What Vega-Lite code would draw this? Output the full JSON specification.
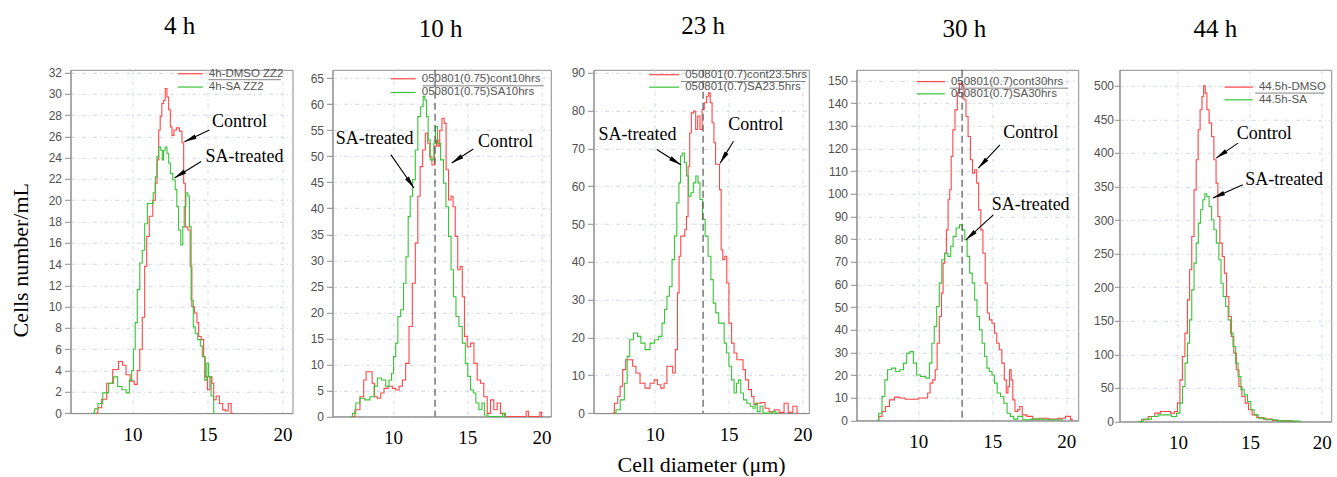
{
"$schema": "https://vega.github.io/schema/vega-lite/v6.json",
"background": "white",
"padding": {"left": 8.5, "top": 12.8, "right": 0, "bottom": 0},
"spacing": 10,
"config": {
 "view": {"stroke": "#8c8c8c", "strokeWidth": 1},
 "axis": {"gridColor": "#d3d9e4", "gridDash": [4, 3, 1, 3], "domainColor": "#8c8c8c", "tickColor": "#8c8c8c", "titleFont": "Liberation Serif", "titleFontWeight": "normal", "titleColor": "#000000", "titleFontSize": 22, "labelOverlap": false},
 "axisX": {"labelFont": "Liberation Serif", "labelFontSize": 19, "labelColor": "#000000", "tickSize": 0, "labelPadding": 12, "labelFlush": false},
 "axisY": {"labelFont": "Liberation Sans", "labelFontSize": 12, "labelColor": "#505050", "tickSize": 6, "labelPadding": 3},
 "line": {"interpolate": "step", "strokeWidth": 1.1, "clip": true},
 "title": {"font": "Liberation Serif", "fontSize": 25, "fontWeight": "normal", "color": "#000000", "frame": "group", "offset": 27.6}
},
"datasets": {
 "c1c": [{"x":7.58,"y":0},{"x":7.8,"y":0.5},{"x":8.1,"y":1.3},{"x":8.47,"y":2.8},{"x":8.9,"y":4.1},{"x":9.24,"y":4.85},{"x":9.45,"y":4.5},{"x":9.69,"y":3.6},{"x":10.0,"y":3.0},{"x":10.24,"y":2.7},{"x":10.4,"y":4.0},{"x":10.58,"y":6.0},{"x":10.73,"y":9.0},{"x":10.9,"y":13.8},{"x":11.0,"y":16.6},{"x":11.24,"y":18.5},{"x":11.47,"y":20.0},{"x":11.58,"y":21.6},{"x":11.7,"y":23.8},{"x":11.8,"y":26.6},{"x":11.9,"y":27.9},{"x":12.02,"y":29.1},{"x":12.13,"y":29.4},{"x":12.24,"y":30.5},{"x":12.36,"y":29.7},{"x":12.47,"y":28.5},{"x":12.58,"y":26.9},{"x":12.69,"y":26.1},{"x":12.84,"y":26.6},{"x":13.02,"y":26.8},{"x":13.24,"y":26.5},{"x":13.36,"y":25.4},{"x":13.47,"y":21.6},{"x":13.58,"y":17.5},{"x":13.8,"y":17.2},{"x":13.9,"y":13.8},{"x":14.02,"y":10.0},{"x":14.24,"y":9.4},{"x":14.36,"y":8.5},{"x":14.47,"y":7.2},{"x":14.69,"y":6.9},{"x":14.8,"y":5.3},{"x":14.9,"y":3.4},{"x":15.09,"y":2.2},{"x":15.24,"y":3.4},{"x":15.36,"y":2.8},{"x":15.47,"y":1.25},{"x":15.69,"y":1.6},{"x":15.9,"y":0.9},{"x":16.13,"y":0.3},{"x":16.3,"y":0.2},{"x":16.47,"y":0.9},{"x":16.69,"y":0}],
 "c1s": [{"x":7.36,"y":0},{"x":7.6,"y":0.4},{"x":7.8,"y":0.9},{"x":8.24,"y":1.9},{"x":8.58,"y":2.8},{"x":8.9,"y":3.4},{"x":9.13,"y":2.5},{"x":9.47,"y":2.2},{"x":9.69,"y":1.9},{"x":9.9,"y":3.1},{"x":10.0,"y":4.0},{"x":10.13,"y":6.0},{"x":10.24,"y":8.5},{"x":10.4,"y":11.6},{"x":10.58,"y":14.1},{"x":10.73,"y":15.3},{"x":10.9,"y":17.8},{"x":11.09,"y":19.7},{"x":11.3,"y":19.7},{"x":11.47,"y":20.7},{"x":11.58,"y":22.2},{"x":11.69,"y":24.1},{"x":11.8,"y":25.0},{"x":11.96,"y":24.7},{"x":12.02,"y":23.8},{"x":12.13,"y":24.7},{"x":12.24,"y":25.0},{"x":12.36,"y":24.4},{"x":12.47,"y":23.5},{"x":12.58,"y":22.5},{"x":12.8,"y":21.9},{"x":12.9,"y":21.0},{"x":13.02,"y":19.4},{"x":13.13,"y":17.2},{"x":13.31,"y":15.8},{"x":13.4,"y":17.5},{"x":13.5,"y":19.4},{"x":13.62,"y":20.7},{"x":13.76,"y":20.4},{"x":13.84,"y":17.5},{"x":13.98,"y":10.6},{"x":14.13,"y":8.1},{"x":14.24,"y":7.5},{"x":14.47,"y":6.9},{"x":14.58,"y":6.3},{"x":14.73,"y":5.3},{"x":14.9,"y":3.1},{"x":15.02,"y":4.7},{"x":15.13,"y":3.4},{"x":15.36,"y":1.6},{"x":15.47,"y":0}],
 "c2c": [{"x":7.26,"y":0},{"x":7.6,"y":1.3},{"x":7.94,"y":3.8},{"x":8.1,"y":7.0},{"x":8.27,"y":8.6},{"x":8.5,"y":8.6},{"x":8.68,"y":6.4},{"x":8.83,"y":3.8},{"x":9.06,"y":3.5},{"x":9.28,"y":4.5},{"x":9.5,"y":5.4},{"x":9.84,"y":5.8},{"x":10.07,"y":5.4},{"x":10.29,"y":5.1},{"x":10.52,"y":5.8},{"x":10.74,"y":7.0},{"x":10.96,"y":10.2},{"x":11.19,"y":17.3},{"x":11.41,"y":25.6},{"x":11.59,"y":33.3},{"x":11.75,"y":42.3},{"x":11.9,"y":48.0},{"x":12.09,"y":51.2},{"x":12.26,"y":54.4},{"x":12.42,"y":52.5},{"x":12.53,"y":49.9},{"x":12.71,"y":48.3},{"x":12.87,"y":51.9},{"x":12.98,"y":53.1},{"x":13.09,"y":51.9},{"x":13.2,"y":55.0},{"x":13.39,"y":57.3},{"x":13.5,"y":56.3},{"x":13.65,"y":47.4},{"x":13.83,"y":41.6},{"x":13.99,"y":42.3},{"x":14.1,"y":40.3},{"x":14.28,"y":34.6},{"x":14.44,"y":28.2},{"x":14.6,"y":28.8},{"x":14.73,"y":23.0},{"x":14.89,"y":15.4},{"x":15.11,"y":13.4},{"x":15.34,"y":14.1},{"x":15.56,"y":10.2},{"x":15.78,"y":7.0},{"x":16.0,"y":6.4},{"x":16.23,"y":3.8},{"x":16.46,"y":0.6},{"x":16.68,"y":3.2},{"x":16.9,"y":1.3},{"x":17.13,"y":2.6},{"x":17.35,"y":0.6},{"x":17.69,"y":0},{"x":18.9,"y":0},{"x":19.04,"y":1.0},{"x":19.2,"y":0},{"x":19.85,"y":0},{"x":19.93,"y":0.8},{"x":20.1,"y":0}],
 "c2s": [{"x":7.15,"y":0},{"x":7.38,"y":0.6},{"x":7.6,"y":2.6},{"x":7.94,"y":3.5},{"x":8.27,"y":3.2},{"x":8.61,"y":3.8},{"x":8.83,"y":5.8},{"x":9.06,"y":7.4},{"x":9.39,"y":7.0},{"x":9.62,"y":5.8},{"x":9.84,"y":7.0},{"x":9.96,"y":8.3},{"x":10.11,"y":11.5},{"x":10.25,"y":14.1},{"x":10.4,"y":19.2},{"x":10.63,"y":20.5},{"x":10.78,"y":25.6},{"x":10.96,"y":30.7},{"x":11.08,"y":38.4},{"x":11.23,"y":42.3},{"x":11.41,"y":45.5},{"x":11.59,"y":51.2},{"x":11.75,"y":57.6},{"x":11.97,"y":59.5},{"x":12.09,"y":61.5},{"x":12.2,"y":60.8},{"x":12.31,"y":57.6},{"x":12.42,"y":53.1},{"x":12.58,"y":49.3},{"x":12.71,"y":49.3},{"x":12.8,"y":52.5},{"x":12.91,"y":55.7},{"x":13.09,"y":52.5},{"x":13.32,"y":49.3},{"x":13.48,"y":44.8},{"x":13.65,"y":40.3},{"x":13.83,"y":34.6},{"x":13.99,"y":28.2},{"x":14.15,"y":23.0},{"x":14.33,"y":19.2},{"x":14.55,"y":17.3},{"x":14.78,"y":14.1},{"x":14.96,"y":10.2},{"x":15.11,"y":7.7},{"x":15.34,"y":5.1},{"x":15.49,"y":4.5},{"x":15.67,"y":2.6},{"x":15.9,"y":1.3},{"x":16.08,"y":2.6},{"x":16.23,"y":0.3},{"x":16.57,"y":0},{"x":17.3,"y":0},{"x":17.47,"y":0.6},{"x":17.69,"y":0}],
 "c3c": [{"x":7.15,"y":0},{"x":7.38,"y":2.6},{"x":7.6,"y":4.4},{"x":7.71,"y":7.1},{"x":7.94,"y":11.5},{"x":8.12,"y":14.1},{"x":8.39,"y":14.1},{"x":8.61,"y":12.4},{"x":8.83,"y":10.6},{"x":9.17,"y":7.9},{"x":9.51,"y":6.6},{"x":9.84,"y":7.9},{"x":10.07,"y":8.8},{"x":10.29,"y":7.5},{"x":10.52,"y":6.6},{"x":10.74,"y":7.9},{"x":10.9,"y":12.4},{"x":11.12,"y":12.4},{"x":11.3,"y":10.6},{"x":11.48,"y":16.8},{"x":11.59,"y":31.8},{"x":11.7,"y":41.5},{"x":11.82,"y":46.8},{"x":11.97,"y":46.8},{"x":12.09,"y":48.5},{"x":12.2,"y":52.0},{"x":12.31,"y":65.3},{"x":12.42,"y":74.1},{"x":12.53,"y":79.4},{"x":12.71,"y":79.9},{"x":12.83,"y":75.0},{"x":12.98,"y":78.6},{"x":13.14,"y":75.0},{"x":13.27,"y":80.3},{"x":13.43,"y":82.1},{"x":13.59,"y":83.8},{"x":13.7,"y":84.7},{"x":13.81,"y":82.1},{"x":13.95,"y":76.8},{"x":14.06,"y":71.5},{"x":14.17,"y":65.8},{"x":14.33,"y":65.8},{"x":14.44,"y":59.1},{"x":14.55,"y":43.2},{"x":14.66,"y":40.6},{"x":14.82,"y":41.5},{"x":14.93,"y":34.4},{"x":15.11,"y":23.8},{"x":15.29,"y":18.5},{"x":15.45,"y":15.9},{"x":15.67,"y":14.1},{"x":15.9,"y":14.1},{"x":16.05,"y":11.5},{"x":16.23,"y":8.8},{"x":16.46,"y":6.2},{"x":16.64,"y":4.4},{"x":16.79,"y":2.2},{"x":17.02,"y":2.6},{"x":17.35,"y":2.8},{"x":17.58,"y":1.3},{"x":17.91,"y":0.4},{"x":18.25,"y":0.9},{"x":18.59,"y":0.2},{"x":18.92,"y":2.6},{"x":19.15,"y":0.2},{"x":19.55,"y":1.8},{"x":19.71,"y":0}],
 "c3s": [{"x":7.26,"y":0},{"x":7.49,"y":0.9},{"x":7.83,"y":3.5},{"x":8.05,"y":7.9},{"x":8.21,"y":15.0},{"x":8.39,"y":19.4},{"x":8.72,"y":21.2},{"x":8.95,"y":20.3},{"x":9.17,"y":18.5},{"x":9.51,"y":16.8},{"x":9.84,"y":18.5},{"x":10.13,"y":19.4},{"x":10.4,"y":20.3},{"x":10.58,"y":23.8},{"x":10.74,"y":27.4},{"x":10.9,"y":30.9},{"x":11.08,"y":33.5},{"x":11.26,"y":40.6},{"x":11.41,"y":46.8},{"x":11.57,"y":55.6},{"x":11.7,"y":60.9},{"x":11.79,"y":68.0},{"x":11.93,"y":68.8},{"x":12.09,"y":66.2},{"x":12.2,"y":62.7},{"x":12.38,"y":57.4},{"x":12.53,"y":58.3},{"x":12.69,"y":60.9},{"x":12.87,"y":62.7},{"x":12.98,"y":60.9},{"x":13.14,"y":56.5},{"x":13.32,"y":51.2},{"x":13.5,"y":46.8},{"x":13.72,"y":41.5},{"x":13.88,"y":35.3},{"x":14.04,"y":29.1},{"x":14.22,"y":26.5},{"x":14.44,"y":23.8},{"x":14.62,"y":23.8},{"x":14.78,"y":18.5},{"x":14.93,"y":15.9},{"x":15.11,"y":12.4},{"x":15.29,"y":8.8},{"x":15.45,"y":5.3},{"x":15.61,"y":7.9},{"x":15.74,"y":8.8},{"x":15.9,"y":5.3},{"x":16.12,"y":3.5},{"x":16.35,"y":2.6},{"x":16.57,"y":1.8},{"x":16.73,"y":1.3},{"x":16.86,"y":2.6},{"x":17.02,"y":0.4},{"x":17.24,"y":1.8},{"x":17.4,"y":0},{"x":17.9,"y":0},{"x":18.03,"y":0.4},{"x":18.36,"y":0}],
 "c4c": [{"x":7.22,"y":0},{"x":7.44,"y":1.8},{"x":7.67,"y":4.0},{"x":7.89,"y":6.2},{"x":8.22,"y":9.1},{"x":8.56,"y":10.3},{"x":8.89,"y":9.9},{"x":9.33,"y":9.4},{"x":9.78,"y":9.4},{"x":10.22,"y":9.9},{"x":10.56,"y":9.9},{"x":10.71,"y":12.1},{"x":10.89,"y":16.5},{"x":11.07,"y":17.9},{"x":11.22,"y":22.4},{"x":11.33,"y":34.1},{"x":11.51,"y":45.9},{"x":11.62,"y":56.2},{"x":11.73,"y":69.4},{"x":11.84,"y":73.8},{"x":11.96,"y":84.1},{"x":12.07,"y":97.4},{"x":12.18,"y":101.8},{"x":12.27,"y":116.5},{"x":12.4,"y":128.2},{"x":12.56,"y":137.0},{"x":12.71,"y":144.4},{"x":12.84,"y":148.8},{"x":13.0,"y":148.1},{"x":13.16,"y":141.5},{"x":13.29,"y":134.1},{"x":13.44,"y":125.3},{"x":13.6,"y":115.0},{"x":13.73,"y":109.1},{"x":13.89,"y":110.6},{"x":14.0,"y":104.7},{"x":14.16,"y":92.9},{"x":14.29,"y":84.1},{"x":14.44,"y":73.8},{"x":14.6,"y":60.6},{"x":14.73,"y":47.4},{"x":14.89,"y":44.4},{"x":15.07,"y":42.9},{"x":15.22,"y":38.5},{"x":15.38,"y":34.1},{"x":15.56,"y":31.2},{"x":15.73,"y":25.3},{"x":15.89,"y":17.9},{"x":16.0,"y":12.1},{"x":16.11,"y":15.0},{"x":16.22,"y":22.4},{"x":16.33,"y":17.9},{"x":16.44,"y":9.1},{"x":16.62,"y":4.0},{"x":16.78,"y":4.7},{"x":16.93,"y":6.2},{"x":17.11,"y":2.5},{"x":17.56,"y":1.8},{"x":17.89,"y":0.6},{"x":18.44,"y":1.0},{"x":19.11,"y":0.6},{"x":19.78,"y":1.0},{"x":20.11,"y":1.8},{"x":20.44,"y":0.5}],
 "c4s": [{"x":7.22,"y":0},{"x":7.44,"y":3.2},{"x":7.67,"y":10.6},{"x":7.82,"y":17.9},{"x":8.04,"y":22.4},{"x":8.33,"y":23.1},{"x":8.62,"y":21.6},{"x":8.89,"y":22.4},{"x":9.11,"y":25.3},{"x":9.33,"y":29.7},{"x":9.56,"y":30.4},{"x":9.78,"y":25.3},{"x":10.0,"y":20.1},{"x":10.33,"y":19.4},{"x":10.67,"y":18.7},{"x":10.84,"y":25.3},{"x":11.0,"y":34.1},{"x":11.16,"y":41.5},{"x":11.33,"y":50.3},{"x":11.51,"y":60.6},{"x":11.67,"y":70.9},{"x":11.89,"y":73.8},{"x":12.11,"y":72.4},{"x":12.27,"y":76.8},{"x":12.44,"y":81.2},{"x":12.67,"y":84.9},{"x":12.89,"y":86.3},{"x":13.07,"y":84.1},{"x":13.22,"y":79.7},{"x":13.38,"y":72.4},{"x":13.56,"y":65.0},{"x":13.73,"y":60.6},{"x":13.89,"y":53.2},{"x":14.04,"y":45.9},{"x":14.22,"y":40.0},{"x":14.4,"y":34.1},{"x":14.56,"y":28.2},{"x":14.71,"y":23.1},{"x":14.89,"y":21.6},{"x":15.07,"y":20.1},{"x":15.22,"y":16.5},{"x":15.44,"y":12.1},{"x":15.67,"y":10.6},{"x":15.89,"y":7.6},{"x":16.11,"y":3.2},{"x":16.33,"y":1.8},{"x":16.56,"y":0.6},{"x":16.89,"y":1.8},{"x":17.22,"y":0.3},{"x":18.0,"y":0.6},{"x":18.89,"y":0.3},{"x":19.78,"y":0.3}],
 "c5c": [{"x":7.24,"y":0},{"x":7.7,"y":2.5},{"x":8.16,"y":7.4},{"x":8.62,"y":12.4},{"x":8.96,"y":14.9},{"x":9.31,"y":14.9},{"x":9.65,"y":12.4},{"x":9.88,"y":14.9},{"x":10.05,"y":27.3},{"x":10.23,"y":62.0},{"x":10.39,"y":96.8},{"x":10.58,"y":131.6},{"x":10.74,"y":181.2},{"x":10.88,"y":226.0},{"x":11.04,"y":275.6},{"x":11.2,"y":345.0},{"x":11.34,"y":389.8},{"x":11.47,"y":434.5},{"x":11.61,"y":464.3},{"x":11.73,"y":484.1},{"x":11.84,"y":500.0},{"x":11.96,"y":489.0},{"x":12.07,"y":464.3},{"x":12.26,"y":444.4},{"x":12.42,"y":424.5},{"x":12.58,"y":389.8},{"x":12.72,"y":355.0},{"x":12.83,"y":305.4},{"x":13.0,"y":265.6},{"x":13.16,"y":245.8},{"x":13.29,"y":221.0},{"x":13.46,"y":186.2},{"x":13.62,"y":156.4},{"x":13.8,"y":126.6},{"x":13.96,"y":101.8},{"x":14.15,"y":77.0},{"x":14.33,"y":52.1},{"x":14.56,"y":37.2},{"x":14.79,"y":27.3},{"x":15.02,"y":17.4},{"x":15.3,"y":9.9},{"x":15.65,"y":6.0},{"x":16.22,"y":3.5},{"x":16.91,"y":1.5},{"x":17.6,"y":1.0},{"x":18.3,"y":0}],
 "c5s": [{"x":7.24,"y":0},{"x":7.93,"y":3.5},{"x":8.39,"y":7.4},{"x":8.85,"y":9.9},{"x":9.31,"y":9.9},{"x":9.77,"y":7.4},{"x":10.05,"y":12.4},{"x":10.23,"y":27.3},{"x":10.41,"y":52.1},{"x":10.58,"y":86.9},{"x":10.74,"y":116.7},{"x":10.88,"y":151.4},{"x":11.04,"y":196.1},{"x":11.2,"y":235.8},{"x":11.34,"y":265.6},{"x":11.5,"y":295.4},{"x":11.66,"y":315.3},{"x":11.8,"y":330.2},{"x":11.94,"y":339.1},{"x":12.07,"y":335.2},{"x":12.26,"y":320.3},{"x":12.42,"y":300.4},{"x":12.58,"y":285.5},{"x":12.76,"y":265.6},{"x":12.93,"y":240.8},{"x":13.06,"y":206.0},{"x":13.23,"y":186.2},{"x":13.41,"y":171.3},{"x":13.57,"y":151.4},{"x":13.73,"y":131.6},{"x":13.92,"y":111.7},{"x":14.1,"y":86.9},{"x":14.26,"y":67.0},{"x":14.49,"y":47.2},{"x":14.72,"y":39.7},{"x":14.95,"y":29.8},{"x":15.18,"y":17.4},{"x":15.41,"y":9.9},{"x":15.76,"y":5.0},{"x":16.45,"y":2.5},{"x":17.37,"y":1.0},{"x":18.53,"y":0.5}],
 "leg": [
  {"p":1,"s":"C","x":13.02,"x2":14.69,"y":31.89,"t":"4h-DMSO ZZ2"},
  {"p":1,"s":"S","x":13.02,"x2":14.69,"y":30.64,"t":"4h-SA ZZ2"},
  {"p":2,"s":"C","x":9.85,"x2":11.53,"y":64.87,"t":"050801(0.75)cont10hrs"},
  {"p":2,"s":"S","x":9.85,"x2":11.53,"y":62.24,"t":"050801(0.75)SA10hrs"},
  {"p":3,"s":"C","x":9.62,"x2":11.65,"y":89.5,"t":"050801(0.7)cont23.5hrs"},
  {"p":3,"s":"S","x":9.62,"x2":11.65,"y":86.2,"t":"050801(0.7)SA23.5hrs"},
  {"p":4,"s":"C","x":9.89,"x2":11.8,"y":149.5,"t":"050801(0.7)cont30hrs"},
  {"p":4,"s":"S","x":9.89,"x2":11.8,"y":144.1,"t":"050801(0.7)SA30hrs"},
  {"p":5,"s":"C","x":13.24,"x2":15.21,"y":498,"t":"44.5h-DMSO"},
  {"p":5,"s":"S","x":13.24,"x2":15.21,"y":479.1,"t":"44.5h-SA"}
 ],
 "und": [
  {"p":1,"x":15.07,"x2":19.91,"y":31.33},
  {"p":2,"x":11.98,"x2":20.15,"y":63.52},
  {"p":3,"x":11.76,"x2":20.22,"y":87.7},
  {"p":4,"x":12.13,"x2":20.13,"y":146.6},
  {"p":5,"x":15.37,"x2":20.18,"y":489.1}
 ],
 "ann": [
  {"p":1,"t":"Control","x":17.13,"y":27.4},
  {"p":1,"t":"SA-treated","x":17.47,"y":24.1},
  {"p":2,"t":"SA-treated","x":8.76,"y":53.3},
  {"p":2,"t":"Control","x":17.58,"y":52.7},
  {"p":3,"t":"SA-treated","x":8.83,"y":73.5},
  {"p":3,"t":"Control","x":16.84,"y":76.1},
  {"p":4,"t":"Control","x":17.59,"y":126.7},
  {"p":4,"t":"SA-treated","x":17.59,"y":94.9},
  {"p":5,"t":"Control","x":16.0,"y":428.5},
  {"p":5,"t":"SA-treated","x":17.38,"y":360}
 ],
 "arr": [
  {"p":1,"a":"C","x":15.13,"y":26.6,"x2":13.47,"y2":25.5},
  {"p":1,"a":"S","x":14.58,"y":23.65,"x2":12.8,"y2":22.1},
  {"p":2,"a":"S","x":9.85,"y":50.3,"x2":11.41,"y2":43.9},
  {"p":2,"a":"C","x":15.41,"y":51.4,"x2":13.95,"y2":48.7},
  {"p":3,"a":"S","x":10.14,"y":69.7,"x2":11.76,"y2":65.7},
  {"p":3,"a":"C","x":15.33,"y":71.9,"x2":14.42,"y2":66.1},
  {"p":4,"a":"C","x":15.51,"y":121.6,"x2":14.05,"y2":111.3},
  {"p":4,"a":"S","x":15.07,"y":90.7,"x2":13.22,"y2":79.7},
  {"p":5,"a":"C","x":14.17,"y":414.6,"x2":12.66,"y2":392.3},
  {"p":5,"a":"S","x":14.51,"y":352.5,"x2":12.43,"y2":332.7}
 ],
 "vl": [{"p":2,"x":12.83},{"p":3,"x":13.27},{"p":4,"x":12.96}]
},
"hconcat": [
 {
  "width": 222, "height": 343.3,
  "title": {"text": "4 h", "dx": -2},
  "layer": [
   {"data": {"name": "c1c"}, "mark": {"type": "line", "color": "#ff4646"},
    "encoding": {
     "x": {"field": "x", "type": "quantitative", "scale": {"domain": [5.87, 20.67], "nice": false, "zero": false}, "axis": {"values": [10, 15, 20], "title": null}},
     "y": {"field": "y", "type": "quantitative", "scale": {"domain": [0, 32.26], "nice": false}, "axis": {"values": [0,2,4,6,8,10,12,14,16,18,20,22,24,26,28,30,32], "tickCount": 100, "format": "d", "title": "Cells number/mL", "titlePadding": 15, "titleY": 190, "minExtent": 23, "maxExtent": 23}}
    }},
   {"data": {"name": "c1s"}, "mark": {"type": "line", "color": "#38c438"}, "encoding": {"x": {"field": "x", "type": "quantitative"}, "y": {"field": "y", "type": "quantitative"}}},
   {"data": {"name": "leg"}, "transform": [{"filter": "datum.p == 1"}], "mark": {"type": "rule", "strokeWidth": 1.2}, "encoding": {"x": {"field": "x", "type": "quantitative"}, "x2": {"field": "x2"}, "y": {"field": "y", "type": "quantitative"}, "color": {"field": "s", "type": "nominal", "scale": {"domain": ["C", "S"], "range": ["#ff4646", "#38c438"]}, "legend": null}}},
   {"data": {"name": "leg"}, "transform": [{"filter": "datum.p == 1"}], "mark": {"type": "text", "align": "left", "baseline": "middle", "dx": 6, "font": "Liberation Sans", "fontSize": 11.5, "color": "#555555"}, "encoding": {"x": {"field": "x2", "type": "quantitative"}, "y": {"field": "y", "type": "quantitative"}, "text": {"field": "t"}}},
   {"data": {"name": "und"}, "transform": [{"filter": "datum.p == 1"}], "mark": {"type": "rule", "strokeWidth": 0.8, "color": "#666666"}, "encoding": {"x": {"field": "x", "type": "quantitative"}, "x2": {"field": "x2"}, "y": {"field": "y", "type": "quantitative"}}},
   {"data": {"name": "ann"}, "transform": [{"filter": "datum.p == 1"}], "mark": {"type": "text", "font": "Liberation Serif", "fontSize": 18, "color": "#000000", "baseline": "middle"}, "encoding": {"x": {"field": "x", "type": "quantitative"}, "y": {"field": "y", "type": "quantitative"}, "text": {"field": "t"}}},
   {"data": {"name": "arr"}, "transform": [{"filter": "datum.p == 1"}], "mark": {"type": "rule", "strokeWidth": 1.1, "color": "#000000"}, "encoding": {"x": {"field": "x", "type": "quantitative"}, "y": {"field": "y", "type": "quantitative"}, "x2": {"field": "x2"}, "y2": {"field": "y2"}}},
   {"data": {"name": "arr"}, "transform": [{"filter": "datum.p == 1 && datum.a == 'C'"}], "mark": {"type": "point", "shape": "M0,0L0.38,2L-0.38,2Z", "size": 150, "filled": true, "opacity": 1, "color": "#000000", "angle": -115}, "encoding": {"x": {"field": "x2", "type": "quantitative"}, "y": {"field": "y2", "type": "quantitative"}}},
   {"data": {"name": "arr"}, "transform": [{"filter": "datum.p == 1 && datum.a == 'S'"}], "mark": {"type": "point", "shape": "M0,0L0.38,2L-0.38,2Z", "size": 150, "filled": true, "opacity": 1, "color": "#000000", "angle": -122}, "encoding": {"x": {"field": "x2", "type": "quantitative"}, "y": {"field": "y2", "type": "quantitative"}}}
  ]
 },
 {
  "width": 218.3, "height": 346.7,
  "title": {"text": "10 h", "dx": -1},
  "layer": [
   {"data": {"name": "c2c"}, "mark": {"type": "line", "color": "#ff4646"},
    "encoding": {
     "x": {"field": "x", "type": "quantitative", "scale": {"domain": [5.92, 20.63], "nice": false, "zero": false}, "axis": {"values": [10, 15, 20], "title": null}},
     "y": {"field": "y", "type": "quantitative", "scale": {"domain": [0, 66.6], "nice": false}, "axis": {"values": [0,5,10,15,20,25,30,35,40,45,50,55,60,65], "tickCount": 100, "format": "d", "title": null, "minExtent": 28.2, "maxExtent": 28.2}}
    }},
   {"data": {"name": "c2s"}, "mark": {"type": "line", "color": "#38c438"}, "encoding": {"x": {"field": "x", "type": "quantitative"}, "y": {"field": "y", "type": "quantitative"}}},
   {"data": {"name": "vl"}, "transform": [{"filter": "datum.p == 2"}], "mark": {"type": "rule", "color": "#555555", "strokeDash": [7, 4], "strokeWidth": 1.2}, "encoding": {"x": {"field": "x", "type": "quantitative"}}},
   {"data": {"name": "leg"}, "transform": [{"filter": "datum.p == 2"}], "mark": {"type": "rule", "strokeWidth": 1.2}, "encoding": {"x": {"field": "x", "type": "quantitative"}, "x2": {"field": "x2"}, "y": {"field": "y", "type": "quantitative"}, "color": {"field": "s", "type": "nominal", "scale": {"domain": ["C", "S"], "range": ["#ff4646", "#38c438"]}, "legend": null}}},
   {"data": {"name": "leg"}, "transform": [{"filter": "datum.p == 2"}], "mark": {"type": "text", "align": "left", "baseline": "middle", "dx": 6, "font": "Liberation Sans", "fontSize": 11.5, "color": "#555555"}, "encoding": {"x": {"field": "x2", "type": "quantitative"}, "y": {"field": "y", "type": "quantitative"}, "text": {"field": "t"}}},
   {"data": {"name": "und"}, "transform": [{"filter": "datum.p == 2"}], "mark": {"type": "rule", "strokeWidth": 0.8, "color": "#666666"}, "encoding": {"x": {"field": "x", "type": "quantitative"}, "x2": {"field": "x2"}, "y": {"field": "y", "type": "quantitative"}}},
   {"data": {"name": "ann"}, "transform": [{"filter": "datum.p == 2"}], "mark": {"type": "text", "font": "Liberation Serif", "fontSize": 18, "color": "#000000", "baseline": "middle"}, "encoding": {"x": {"field": "x", "type": "quantitative"}, "y": {"field": "y", "type": "quantitative"}, "text": {"field": "t"}}},
   {"data": {"name": "arr"}, "transform": [{"filter": "datum.p == 2"}], "mark": {"type": "rule", "strokeWidth": 1.1, "color": "#000000"}, "encoding": {"x": {"field": "x", "type": "quantitative"}, "y": {"field": "y", "type": "quantitative"}, "x2": {"field": "x2"}, "y2": {"field": "y2"}}},
   {"data": {"name": "arr"}, "transform": [{"filter": "datum.p == 2 && datum.a == 'C'"}], "mark": {"type": "point", "shape": "M0,0L0.38,2L-0.38,2Z", "size": 150, "filled": true, "opacity": 1, "color": "#000000", "angle": -123}, "encoding": {"x": {"field": "x2", "type": "quantitative"}, "y": {"field": "y2", "type": "quantitative"}}},
   {"data": {"name": "arr"}, "transform": [{"filter": "datum.p == 2 && datum.a == 'S'"}], "mark": {"type": "point", "shape": "M0,0L0.38,2L-0.38,2Z", "size": 150, "filled": true, "opacity": 1, "color": "#000000", "angle": 145}, "encoding": {"x": {"field": "x2", "type": "quantitative"}, "y": {"field": "y2", "type": "quantitative"}}}
  ]
 },
 {
  "width": 215.3, "height": 343.3,
  "title": {"text": "23 h", "dx": 2},
  "layer": [
   {"data": {"name": "c3c"}, "mark": {"type": "line", "color": "#ff4646"},
    "encoding": {
     "x": {"field": "x", "type": "quantitative", "scale": {"domain": [5.85, 20.43], "nice": false, "zero": false}, "axis": {"values": [10, 15, 20], "title": "Cell diameter (μm)", "titlePadding": 10}},
     "y": {"field": "y", "type": "quantitative", "scale": {"domain": [0, 90.8], "nice": false}, "axis": {"values": [0,10,20,30,40,50,60,70,80,90], "tickCount": 100, "format": "d", "title": null, "minExtent": 31.2, "maxExtent": 31.2}}
    }},
   {"data": {"name": "c3s"}, "mark": {"type": "line", "color": "#38c438"}, "encoding": {"x": {"field": "x", "type": "quantitative"}, "y": {"field": "y", "type": "quantitative"}}},
   {"data": {"name": "vl"}, "transform": [{"filter": "datum.p == 3"}], "mark": {"type": "rule", "color": "#555555", "strokeDash": [7, 4], "strokeWidth": 1.2}, "encoding": {"x": {"field": "x", "type": "quantitative"}}},
   {"data": {"name": "leg"}, "transform": [{"filter": "datum.p == 3"}], "mark": {"type": "rule", "strokeWidth": 1.2}, "encoding": {"x": {"field": "x", "type": "quantitative"}, "x2": {"field": "x2"}, "y": {"field": "y", "type": "quantitative"}, "color": {"field": "s", "type": "nominal", "scale": {"domain": ["C", "S"], "range": ["#ff4646", "#38c438"]}, "legend": null}}},
   {"data": {"name": "leg"}, "transform": [{"filter": "datum.p == 3"}], "mark": {"type": "text", "align": "left", "baseline": "middle", "dx": 6, "font": "Liberation Sans", "fontSize": 11.5, "color": "#555555"}, "encoding": {"x": {"field": "x2", "type": "quantitative"}, "y": {"field": "y", "type": "quantitative"}, "text": {"field": "t"}}},
   {"data": {"name": "und"}, "transform": [{"filter": "datum.p == 3"}], "mark": {"type": "rule", "strokeWidth": 0.8, "color": "#666666"}, "encoding": {"x": {"field": "x", "type": "quantitative"}, "x2": {"field": "x2"}, "y": {"field": "y", "type": "quantitative"}}},
   {"data": {"name": "ann"}, "transform": [{"filter": "datum.p == 3"}], "mark": {"type": "text", "font": "Liberation Serif", "fontSize": 18, "color": "#000000", "baseline": "middle"}, "encoding": {"x": {"field": "x", "type": "quantitative"}, "y": {"field": "y", "type": "quantitative"}, "text": {"field": "t"}}},
   {"data": {"name": "arr"}, "transform": [{"filter": "datum.p == 3"}], "mark": {"type": "rule", "strokeWidth": 1.1, "color": "#000000"}, "encoding": {"x": {"field": "x", "type": "quantitative"}, "y": {"field": "y", "type": "quantitative"}, "x2": {"field": "x2"}, "y2": {"field": "y2"}}},
   {"data": {"name": "arr"}, "transform": [{"filter": "datum.p == 3 && datum.a == 'C'"}], "mark": {"type": "point", "shape": "M0,0L0.38,2L-0.38,2Z", "size": 150, "filled": true, "opacity": 1, "color": "#000000", "angle": -148}, "encoding": {"x": {"field": "x2", "type": "quantitative"}, "y": {"field": "y2", "type": "quantitative"}}},
   {"data": {"name": "arr"}, "transform": [{"filter": "datum.p == 3 && datum.a == 'S'"}], "mark": {"type": "point", "shape": "M0,0L0.38,2L-0.38,2Z", "size": 150, "filled": true, "opacity": 1, "color": "#000000", "angle": 122}, "encoding": {"x": {"field": "x2", "type": "quantitative"}, "y": {"field": "y2", "type": "quantitative"}}}
  ]
 },
 {
  "width": 221.7, "height": 350.7,
  "title": {"text": "30 h", "dx": -3},
  "layer": [
   {"data": {"name": "c4c"}, "mark": {"type": "line", "color": "#ff4646"},
    "encoding": {
     "x": {"field": "x", "type": "quantitative", "scale": {"domain": [5.83, 20.8], "nice": false, "zero": false}, "axis": {"values": [10, 15, 20], "title": null}},
     "y": {"field": "y", "type": "quantitative", "scale": {"domain": [0, 154.7], "nice": false}, "axis": {"values": [0,10,20,30,40,50,60,70,80,90,100,110,120,130,140,150], "tickCount": 100, "format": "d", "title": null, "minExtent": 33.3, "maxExtent": 33.3}}
    }},
   {"data": {"name": "c4s"}, "mark": {"type": "line", "color": "#38c438"}, "encoding": {"x": {"field": "x", "type": "quantitative"}, "y": {"field": "y", "type": "quantitative"}}},
   {"data": {"name": "vl"}, "transform": [{"filter": "datum.p == 4"}], "mark": {"type": "rule", "color": "#555555", "strokeDash": [7, 4], "strokeWidth": 1.2}, "encoding": {"x": {"field": "x", "type": "quantitative"}}},
   {"data": {"name": "leg"}, "transform": [{"filter": "datum.p == 4"}], "mark": {"type": "rule", "strokeWidth": 1.2}, "encoding": {"x": {"field": "x", "type": "quantitative"}, "x2": {"field": "x2"}, "y": {"field": "y", "type": "quantitative"}, "color": {"field": "s", "type": "nominal", "scale": {"domain": ["C", "S"], "range": ["#ff4646", "#38c438"]}, "legend": null}}},
   {"data": {"name": "leg"}, "transform": [{"filter": "datum.p == 4"}], "mark": {"type": "text", "align": "left", "baseline": "middle", "dx": 6, "font": "Liberation Sans", "fontSize": 11.5, "color": "#555555"}, "encoding": {"x": {"field": "x2", "type": "quantitative"}, "y": {"field": "y", "type": "quantitative"}, "text": {"field": "t"}}},
   {"data": {"name": "und"}, "transform": [{"filter": "datum.p == 4"}], "mark": {"type": "rule", "strokeWidth": 0.8, "color": "#666666"}, "encoding": {"x": {"field": "x", "type": "quantitative"}, "x2": {"field": "x2"}, "y": {"field": "y", "type": "quantitative"}}},
   {"data": {"name": "ann"}, "transform": [{"filter": "datum.p == 4"}], "mark": {"type": "text", "font": "Liberation Serif", "fontSize": 18, "color": "#000000", "baseline": "middle"}, "encoding": {"x": {"field": "x", "type": "quantitative"}, "y": {"field": "y", "type": "quantitative"}, "text": {"field": "t"}}},
   {"data": {"name": "arr"}, "transform": [{"filter": "datum.p == 4"}], "mark": {"type": "rule", "strokeWidth": 1.1, "color": "#000000"}, "encoding": {"x": {"field": "x", "type": "quantitative"}, "y": {"field": "y", "type": "quantitative"}, "x2": {"field": "x2"}, "y2": {"field": "y2"}}},
   {"data": {"name": "arr"}, "transform": [{"filter": "datum.p == 4 && datum.a == 'C'"}], "mark": {"type": "point", "shape": "M0,0L0.38,2L-0.38,2Z", "size": 150, "filled": true, "opacity": 1, "color": "#000000", "angle": -137}, "encoding": {"x": {"field": "x2", "type": "quantitative"}, "y": {"field": "y2", "type": "quantitative"}}},
   {"data": {"name": "arr"}, "transform": [{"filter": "datum.p == 4 && datum.a == 'S'"}], "mark": {"type": "point", "shape": "M0,0L0.38,2L-0.38,2Z", "size": 150, "filled": true, "opacity": 1, "color": "#000000", "angle": -132}, "encoding": {"x": {"field": "x2", "type": "quantitative"}, "y": {"field": "y2", "type": "quantitative"}}}
  ]
 },
 {
  "width": 211.7, "height": 351.7,
  "title": {"text": "44 h", "dx": -10},
  "layer": [
   {"data": {"name": "c5c"}, "mark": {"type": "line", "color": "#ff4646"},
    "encoding": {
     "x": {"field": "x", "type": "quantitative", "scale": {"domain": [5.94, 20.65], "nice": false, "zero": false}, "axis": {"values": [10, 15, 20], "title": null}},
     "y": {"field": "y", "type": "quantitative", "scale": {"domain": [0, 523.8], "nice": false}, "axis": {"values": [0,50,100,150,200,250,300,350,400,450,500], "tickCount": 100, "format": "d", "title": null, "tickSize": 5, "labelPadding": 1, "minExtent": 29.3, "maxExtent": 29.3}}
    }},
   {"data": {"name": "c5s"}, "mark": {"type": "line", "color": "#38c438"}, "encoding": {"x": {"field": "x", "type": "quantitative"}, "y": {"field": "y", "type": "quantitative"}}},
   {"data": {"name": "leg"}, "transform": [{"filter": "datum.p == 5"}], "mark": {"type": "rule", "strokeWidth": 1.2}, "encoding": {"x": {"field": "x", "type": "quantitative"}, "x2": {"field": "x2"}, "y": {"field": "y", "type": "quantitative"}, "color": {"field": "s", "type": "nominal", "scale": {"domain": ["C", "S"], "range": ["#ff4646", "#38c438"]}, "legend": null}}},
   {"data": {"name": "leg"}, "transform": [{"filter": "datum.p == 5"}], "mark": {"type": "text", "align": "left", "baseline": "middle", "dx": 6, "font": "Liberation Sans", "fontSize": 11.5, "color": "#555555"}, "encoding": {"x": {"field": "x2", "type": "quantitative"}, "y": {"field": "y", "type": "quantitative"}, "text": {"field": "t"}}},
   {"data": {"name": "und"}, "transform": [{"filter": "datum.p == 5"}], "mark": {"type": "rule", "strokeWidth": 0.8, "color": "#666666"}, "encoding": {"x": {"field": "x", "type": "quantitative"}, "x2": {"field": "x2"}, "y": {"field": "y", "type": "quantitative"}}},
   {"data": {"name": "ann"}, "transform": [{"filter": "datum.p == 5"}], "mark": {"type": "text", "font": "Liberation Serif", "fontSize": 18, "color": "#000000", "baseline": "middle"}, "encoding": {"x": {"field": "x", "type": "quantitative"}, "y": {"field": "y", "type": "quantitative"}, "text": {"field": "t"}}},
   {"data": {"name": "arr"}, "transform": [{"filter": "datum.p == 5"}], "mark": {"type": "rule", "strokeWidth": 1.1, "color": "#000000"}, "encoding": {"x": {"field": "x", "type": "quantitative"}, "y": {"field": "y", "type": "quantitative"}, "x2": {"field": "x2"}, "y2": {"field": "y2"}}},
   {"data": {"name": "arr"}, "transform": [{"filter": "datum.p == 5 && datum.a == 'C'"}], "mark": {"type": "point", "shape": "M0,0L0.38,2L-0.38,2Z", "size": 150, "filled": true, "opacity": 1, "color": "#000000", "angle": -125}, "encoding": {"x": {"field": "x2", "type": "quantitative"}, "y": {"field": "y2", "type": "quantitative"}}},
   {"data": {"name": "arr"}, "transform": [{"filter": "datum.p == 5 && datum.a == 'S'"}], "mark": {"type": "point", "shape": "M0,0L0.38,2L-0.38,2Z", "size": 150, "filled": true, "opacity": 1, "color": "#000000", "angle": -114}, "encoding": {"x": {"field": "x2", "type": "quantitative"}, "y": {"field": "y2", "type": "quantitative"}}}
  ]
 }
]
}
